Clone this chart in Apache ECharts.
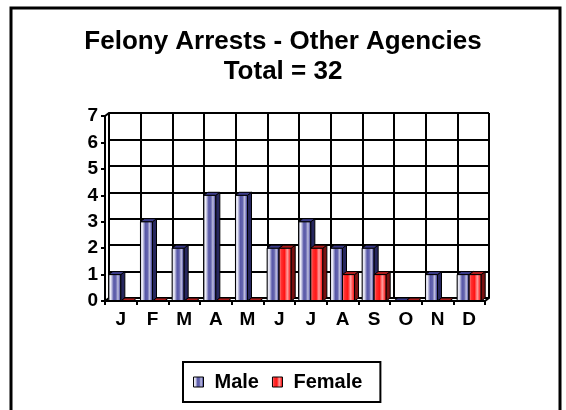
<!DOCTYPE html>
<html>
<head>
<meta charset="utf-8">
<script src="https://cdn.jsdelivr.net/npm/echarts@6/dist/echarts.min.js"></script>
<style>
html,body{margin:0;padding:0;background:#fff;}
#chart{width:566px;height:410px;}
</style>
</head>
<body>
<div id="chart"></div>
<script>
const categories = ['J','F','M','A','M','J','J','A','S','O','N','D'];
const maleValues = [1,3,2,4,4,2,3,2,2,0,1,1];
const femaleValues = [0,0,0,0,0,2,2,1,1,0,0,1];
const yTicks = [0,1,2,3,4,5,6,7];
const titleText = 'Felony Arrests - Other Agencies\nTotal = 32';

const FONT = "'Liberation Sans', Arial, sans-serif";
const chart = echarts.init(document.getElementById('chart'), null, {renderer:'canvas'});

const maleGrad = new echarts.graphic.LinearGradient(0,0,1,0,[
  {offset:0, color:'#b8b8d4'},
  {offset:0.18, color:'#f2f2fa'},
  {offset:0.42, color:'#5858a8'},
  {offset:0.58, color:'#6464ae'},
  {offset:0.74, color:'#c0c0e0'},
  {offset:0.9, color:'#5050a2'},
  {offset:1, color:'#3c3c88'}
]);
const femaleGrad = new echarts.graphic.LinearGradient(0,0,1,0,[
  {offset:0, color:'#ffa8a8'},
  {offset:0.2, color:'#ff3030'},
  {offset:0.45, color:'#ff1414'},
  {offset:0.66, color:'#ffa0a0'},
  {offset:0.86, color:'#ff3030'},
  {offset:1, color:'#e01818'}
]);

function makeRender(slot, frontFill, sideFill, topFill) {
  return function(params, api) {
    const idx = api.value(0), v = api.value(1);
    const base = api.coord([idx, 0]);
    const top = api.coord([idx, v]);
    const band = api.size([1, 0])[0];
    const w = band * 0.38;
    const x0 = slot === 0 ? base[0] - w : base[0];
    const x1 = x0 + w;
    const yb = base[1], yt = top[1];
    const dx = 4, dy = -3;
    const children = [];
    if (yb - yt > 0.5) {
      children.push({type:'rect', shape:{x:x0, y:yt, width:w, height:yb-yt},
        style:{fill:frontFill, stroke:'#000', lineWidth:1}});
      children.push({type:'polygon', shape:{points:[[x1,yb],[x1+dx,yb+dy],[x1+dx,yt+dy],[x1,yt]]},
        style:{fill:sideFill, stroke:'#000', lineWidth:1}});
    }
    children.push({type:'polygon', shape:{points:[[x0,yt],[x0+dx,yt+dy],[x1+dx,yt+dy],[x1,yt]]},
      style:{fill:topFill, stroke:'#000', lineWidth:1}});
    return {type:'group', children};
  };
}

const gridW = 380, gridH = 185;
const option = {
  backgroundColor:'#fff',
  animation:false,
  title:{
    text:titleText, left:'center', top:27, padding:[0,0,0,6],
    textStyle:{fontFamily:FONT, fontSize:26, fontWeight:'bold', color:'#000', lineHeight:30}
  },
  legend:{
    left:183, top:362, padding:[10,18,10,10],
    borderColor:'#000', borderWidth:2, itemGap:13,
    itemWidth:10, itemHeight:10, icon:'rect',
    textStyle:{fontFamily:FONT, fontSize:20, fontWeight:'bold', color:'#000', padding:[0,0,0,6]},
    data:[
      {name:'Male', itemStyle:{color:maleGrad, borderColor:'#000', borderWidth:1}},
      {name:'Female', itemStyle:{color:femaleGrad, borderColor:'#000', borderWidth:1}}
    ]
  },
  grid:[
    {left:105, top:116, width:gridW, height:gridH},
    {left:109, top:113, width:gridW, height:gridH}
  ],
  xAxis:[
    {type:'category', gridIndex:0, data:categories, boundaryGap:true,
      axisLine:{show:true, lineStyle:{color:'#000', width:2}},
      axisTick:{show:true, length:4, lineStyle:{color:'#000', width:2}},
      axisLabel:{fontFamily:FONT, fontSize:19, fontWeight:'bold', color:'#000', margin:9, interval:0},
      splitLine:{show:false}, z:5},
    {type:'category', gridIndex:1, data:categories, boundaryGap:true,
      axisLine:{show:true, lineStyle:{color:'#000', width:2}},
      axisTick:{show:false}, axisLabel:{show:false},
      splitLine:{show:true, interval:0, lineStyle:{color:'#000', width:2}}}
  ],
  yAxis:[
    {type:'value', gridIndex:0, min:0, max:7, interval:1,
      axisLine:{show:true, lineStyle:{color:'#000', width:2}},
      axisTick:{show:true, length:4, lineStyle:{color:'#000', width:2}},
      axisLabel:{fontFamily:FONT, fontSize:19, fontWeight:'bold', color:'#000', margin:7,
        formatter:function(v){ return yTicks.indexOf(v) >= 0 ? String(v) : ''; }},
      splitLine:{show:false}, z:5},
    {type:'value', gridIndex:1, min:0, max:7, interval:1,
      axisLine:{show:true, lineStyle:{color:'#000', width:2}},
      axisTick:{show:false}, axisLabel:{show:false},
      splitLine:{show:true, lineStyle:{color:'#000', width:2}}}
  ],
  graphic:[
    {type:'rect', shape:{x:11, y:8, width:549, height:440},
      style:{fill:'none', stroke:'#000', lineWidth:3}, z:100},
    {type:'line', shape:{x1:105, y1:116, x2:109, y2:113}, style:{stroke:'#000', lineWidth:2}},
    {type:'line', shape:{x1:485, y1:301, x2:489, y2:298}, style:{stroke:'#000', lineWidth:2}},
    {type:'line', shape:{x1:105, y1:301, x2:109, y2:298}, style:{stroke:'#000', lineWidth:2}}
  ],
  series:[
    {name:'Male', type:'custom', xAxisIndex:0, yAxisIndex:0,
      renderItem:makeRender(0, maleGrad, '#26265e', '#3c3c8a'),
      itemStyle:{color:maleGrad},
      encode:{x:0, y:1}, z:3,
      data:maleValues.map((v,i)=>[i,v])},
    {name:'Female', type:'custom', xAxisIndex:0, yAxisIndex:0,
      renderItem:makeRender(1, femaleGrad, '#7a1010', '#b01c1c'),
      itemStyle:{color:femaleGrad},
      encode:{x:0, y:1}, z:3,
      data:femaleValues.map((v,i)=>[i,v])}
  ]
};
chart.setOption(option);
</script>
</body>
</html>
